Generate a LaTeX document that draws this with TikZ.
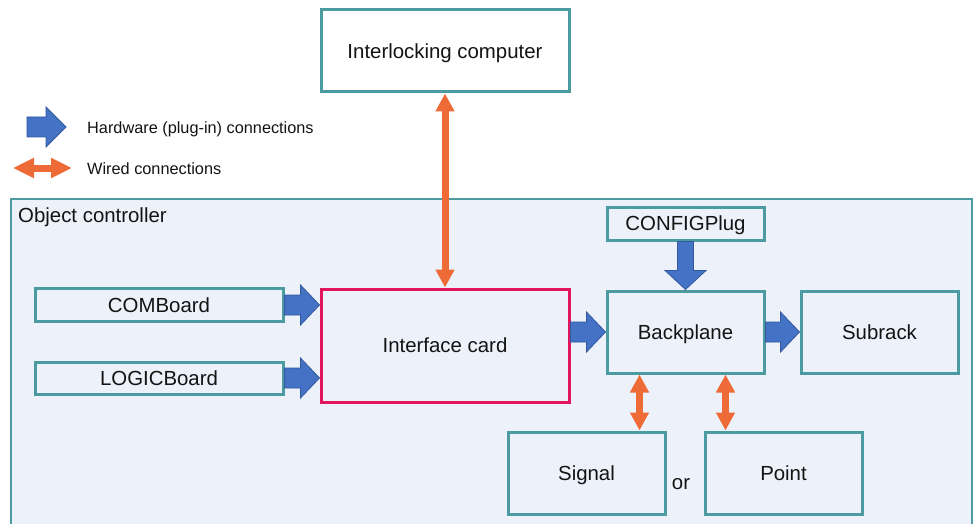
\documentclass[tikz,border=0pt]{standalone}
\usepackage{fontspec}
\setmainfont{Liberation Sans}
\usetikzlibrary{calc,arrows.meta}
\definecolor{teal1}{RGB}{75,155,160}
\definecolor{cfill}{RGB}{237,241,250}
\definecolor{icred}{RGB}{226,22,92}
\definecolor{blue1}{RGB}{68,114,196}
\definecolor{blue2}{RGB}{50,88,160}
\definecolor{orange1}{RGB}{238,106,54}
\definecolor{txt}{RGB}{20,20,20}
\tikzset{
  box/.style={draw=teal1, line width=3pt, fill=cfill, rectangle, inner sep=2pt,
    text=txt, font=\fontsize{20.4}{24}\selectfont, text height=18.5pt, text depth=4.3pt},
  icbox/.style={box, draw=icred},
  bluearr/.style={fill=blue1, draw=blue2, line width=0.8pt, line join=miter},
  wired/.style={draw=orange1, line width=7pt,
    {Triangle[length=18pt,width=18pt]}-{Triangle[length=18pt,width=18pt]}},
  legtext/.style={anchor=west, inner sep=0pt, text=txt, font=\fontsize{16.3}{19}\selectfont},
}
\newcommand\bluehor[4]{\draw[bluearr] ($(#1)+(0,-#3)$) -- ($(#2)+(-19,-#3)$) -- ($(#2)+(-19,-#4)$) -- (#2) -- ($(#2)+(-19,#4)$) -- ($(#2)+(-19,#3)$) -- ($(#1)+(0,#3)$) -- cycle;}
\newcommand\bluever[4]{\draw[bluearr] ($(#1)+(-#3,0)$) -- ($(#2)+(-#3,-19)$) -- ($(#2)+(-#4,-19)$) -- (#2) -- ($(#2)+(#4,-19)$) -- ($(#2)+(#3,-19)$) -- ($(#1)+(#3,0)$) -- cycle;}
\begin{document}
\begin{tikzpicture}[x=1pt,y=-1pt]
\useasboundingbox (0,0) rectangle (974,524);
\clip (0,0) rectangle (974,524);
\fill[white] (0,0) rectangle (974,524);
% container
\draw[draw=teal1, line width=2.5pt, fill=cfill] (11,199) rectangle (972,560);
\node[anchor=west, inner sep=0pt, text=txt, font=\fontsize{20.4}{24}\selectfont] (octitle) at (18,217.5) {Object controller};
% legend
\draw[bluearr] (27,117) -- (46,117) -- (46,107) -- (66,127) -- (46,147) -- (46,137) -- (27,137) -- cycle;
\node[legtext] (leg1) at (87,129) {Hardware (plug-in) connections};
\coordinate (lw1) at (13,168);
\coordinate (lw2) at (72,168);
\draw[draw=orange1, line width=7pt, {Triangle[length=21pt,width=19pt]}-{Triangle[length=21pt,width=19pt]}] (lw1) -- (lw2);
\node[legtext] (leg2) at (87,169) {Wired connections};
% nodes
\node[box, fill=white, minimum width=248pt, minimum height=82pt] (ilc) at (445,51) {Interlocking computer};
\node[box, minimum width=157pt, minimum height=33pt] (cfg) at (685.5,223.5) {CONFIGPlug};
\node[box, minimum width=248pt, minimum height=33pt] (com) at (159,305) {COMBoard};
\node[box, minimum width=248pt, minimum height=32pt] (logic) at (159,378) {LOGICBoard};
\node[icbox, minimum width=248pt, minimum height=113pt] (ic) at (445,345.5) {Interface card};
\node[box, minimum width=157pt, minimum height=82pt] (bp) at (685.5,332) {Backplane};
\node[box, minimum width=157pt, minimum height=82pt] (sub) at (879.5,332) {Subrack};
\node[box, minimum width=157pt, minimum height=82pt] (sig) at (586.5,473) {Signal};
\node[box, minimum width=157pt, minimum height=82pt] (pnt) at (783.5,473) {Point};
\node[inner sep=0pt, text=txt, font=\fontsize{20.4}{24}\selectfont] (or) at (681,484) {or};
% hardware connections
\coordinate (t1) at (com.east -| ic.west);
\coordinate (t2) at (logic.east -| ic.west);
\coordinate (s3) at (bp.west -| ic.east);
\bluehor{com.east}{t1}{10}{20}
\bluehor{logic.east}{t2}{10}{20}
\bluehor{s3}{bp.west}{10}{20}
\bluehor{bp.east}{sub.west}{10}{20}
\bluever{cfg.south}{bp.north}{8}{20.5}
% wired connections
\draw[wired] (ilc.south) -- (ic.north);
\coordinate (w1) at ($(bp.south west)+(34,0)$);
\coordinate (w2) at ($(bp.south west)+(120,0)$);
\draw[wired] (w1) -- (w1 |- sig.north);
\draw[wired] (w2) -- (w2 |- pnt.north);
\end{tikzpicture}
\end{document}
